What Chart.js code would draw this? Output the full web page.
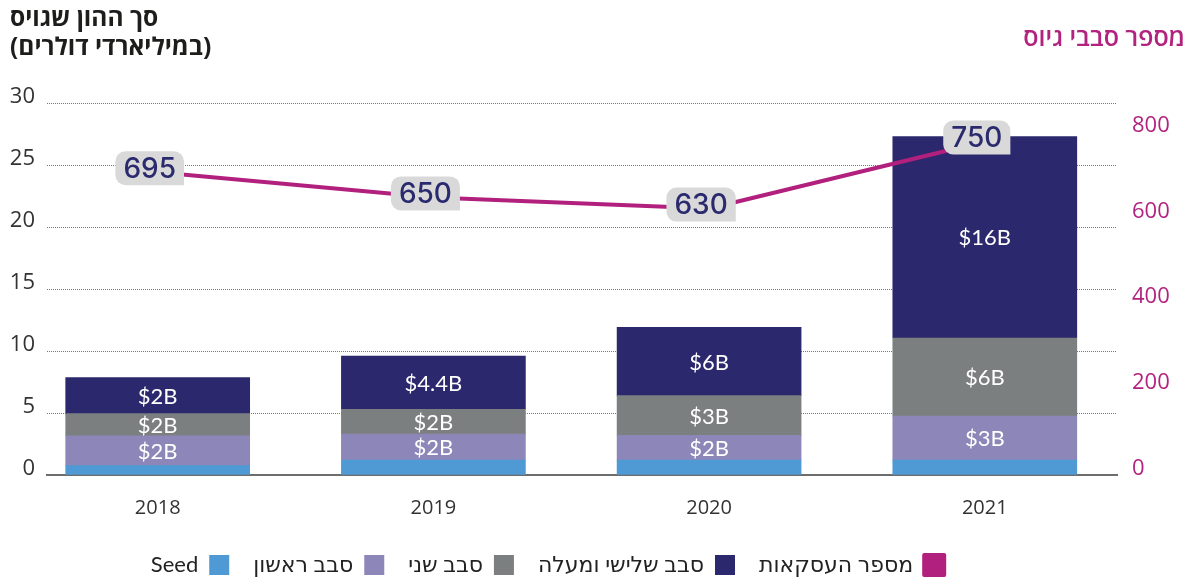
<!DOCTYPE html>
<html><head><meta charset="utf-8">
<script src="https://cdn.jsdelivr.net/npm/chart.js@4.4.1/dist/chart.umd.min.js"></script>
<style>html,body{margin:0;padding:0;background:#fff}#wrap{position:relative;width:1193px;height:581px}</style>
</head><body><div id="wrap"><canvas id="c"></canvas></div>
<script>
// ---- data ----
const years = [2018, 2019, 2020, 2021];
const seedValues   = [0.75, 1.2, 1.2, 1.2];
const round1Values = [2.4, 2.1, 2.0, 3.55];
const round2Values = [1.8, 2.0, 3.2, 6.3];
const round3Values = [2.9, 4.3, 5.5, 16.25];
const dealCounts   = [695, 650, 630, 750];
const round1Labels = ['$2B', '$2B', '$2B', '$3B'];
const round2Labels = ['$2B', '$2B', '$3B', '$6B'];
const round3Labels = ['$2B', '$4.4B', '$6B', '$16B'];
const leftTicks  = [0, 5, 10, 15, 20, 25, 30];
const rightTicks = [0, 200, 400, 600, 800];
const seriesNames = ['Seed', 'סבב ראשון', 'סבב שני', 'סבב שלישי ומעלה', 'מספר העסקאות'];
const leftTitle = ['סך ההון שגויס', '(במיליארדי דולרים)'];
const rightTitle = 'מספר סבבי גיוס';

const COL = {seed:'#4F9AD5', r1:'#8C87B8', r2:'#7B7F80', r3:'#2B286D', line:'#B2207E', box:'#D9D9D9', boxText:'#2B2A6E'};
const FONT = '"Open Sans", "DejaVu Sans", sans-serif';
Chart.defaults.font.family = FONT;

const pts = vals => years.map((yr, i) => ({x: yr, y: vals[i]}));

const labelPlugin = {
  id: 'valueLabels',
  afterDatasetsDraw(chart) {
    const ctx = chart.ctx;
    ctx.save();
    ctx.textAlign = 'center';
    ctx.textBaseline = 'middle';
    ctx.font = '400 22px Lato, "Open Sans", sans-serif';
    ctx.fillStyle = '#fff';
    [[1, round1Labels], [2, round2Labels], [3, round3Labels]].forEach(([di, labs]) => {
      chart.getDatasetMeta(di).data.forEach((el, i) => {
        ctx.fillText(labs[i], el.x, (el.y + el.base) / 2 + 1);
      });
    });
    ctx.font = '500 28px Inter, "Open Sans", sans-serif';
    chart.getDatasetMeta(4).data.forEach((pt, i) => {
      const t = String(dealCounts[i]);
      const w = ctx.measureText(t).width + 16, h = 34;
      const cx = pt.x - 8, cy = pt.y - 4;
      ctx.fillStyle = COL.box;
      ctx.beginPath();
      ctx.roundRect(cx - w / 2, cy - h / 2, w, h, [10, 10, 0, 10]);
      ctx.fill();
      ctx.fillStyle = COL.boxText;
      ctx.fillText(t, cx, cy + 1);
    });
    ctx.restore();
  }
};

const titlePlugin = {
  id: 'titles',
  afterDraw(chart) {
    const ctx = chart.ctx;
    ctx.save();
    ctx.direction = 'rtl';
    ctx.textBaseline = 'middle';
    ctx.textAlign = 'left';
    ctx.fillStyle = '#1d1d1b';
    ctx.font = '700 24.5px ' + FONT;
    ctx.fillText(leftTitle[0], 10, 19);
    ctx.fillText(leftTitle[1], 10, 48);
    ctx.textAlign = 'right';
    ctx.fillStyle = '#B2237F';
    ctx.font = '600 25px ' + FONT;
    ctx.fillText(rightTitle, 1185, 39);
    ctx.restore();
  }
};

const legendShift = {
  id: 'legendShift',
  afterLayout(chart) {
    const L = chart.legend;
    if (!L) return;
    const h = L.bottom - L.top;
    L.top = 530; L.bottom = 530 + h;
    L.left -= 49; L.right -= 49;
  }
};

new Chart(document.getElementById('c'), {
  type: 'bar',
  data: {
    datasets: [
      {label: seriesNames[0], data: pts(seedValues), backgroundColor: COL.seed, yAxisID: 'y', barThickness: 184, borderWidth: 0},
      {label: seriesNames[1], data: pts(round1Values), backgroundColor: COL.r1, yAxisID: 'y', barThickness: 184, borderWidth: 0},
      {label: seriesNames[2], data: pts(round2Values), backgroundColor: COL.r2, yAxisID: 'y', barThickness: 184, borderWidth: 0},
      {label: seriesNames[3], data: pts(round3Values), backgroundColor: COL.r3, yAxisID: 'y', barThickness: 184, borderWidth: 0},
      {label: seriesNames[4], type: 'line', data: pts(dealCounts), yAxisID: 'yLine', borderColor: COL.line, backgroundColor: COL.line,
       borderWidth: 4, pointRadius: 0, tension: 0, order: -1, borderJoinStyle: 'round'}
    ]
  },
  options: {
    responsive: true,
    maintainAspectRatio: false,
    animation: false,
    events: [],
    layout: {padding: {top: 103, left: 0, right: 0, bottom: 0}},
    scales: {
      x: {
        type: 'linear', stacked: true, offset: false, min: 2017.5985, max: 2021.4795,
        afterBuildTicks: s => { s.ticks = years.map(v => ({value: v})); },
        ticks: {callback: v => String(v), font: {size: 20}, color: '#333', padding: 13, autoSkip: false, maxRotation: 0},
        grid: {display: false, offset: false},
        border: {display: true, color: '#6d6d6d', width: 2},
        afterFit: s => { s.height = 50; }
      },
      y: {
        position: 'left', stacked: true, min: 0, max: 30,
        afterBuildTicks: s => { s.ticks = leftTicks.map(v => ({value: v})); },
        ticks: {callback: v => [String(v), ''], font: {size: 22, lineHeight: 0.6}, color: '#333', padding: 12},
        grid: {color: c => (c.tick && c.tick.value === 0) ? 'rgba(0,0,0,0)' : '#777', lineWidth: 1, drawTicks: false},
        border: {display: false, dash: [1, 1]},
        afterFit: s => { s.width = 47; }
      },
      yR: {
        position: 'right', min: 0, max: 868,
        afterBuildTicks: s => { s.ticks = rightTicks.map(v => ({value: v})); },
        ticks: {callback: v => [String(v), ''], font: {size: 22, lineHeight: 0.6}, color: '#B2237F', padding: 15},
        grid: {display: false, drawTicks: false},
        border: {display: false},
        afterFit: s => { s.width = 76; }
      },
      yLine: {display: false, position: 'right', min: 153, max: 819}
    },
    plugins: {
      tooltip: {enabled: false},
      legend: {
        position: 'bottom', rtl: true, textDirection: 'rtl',
        labels: {boxWidth: 20, boxHeight: 20, padding: 24, color: '#222',
                 font: {size: 22, family: 'Lato, "DejaVu Sans", sans-serif'},
                 sort: (a, b) => b.datasetIndex - a.datasetIndex}
      }
    }
  },
  plugins: [labelPlugin, titlePlugin, legendShift]
});
</script>
</body></html>
